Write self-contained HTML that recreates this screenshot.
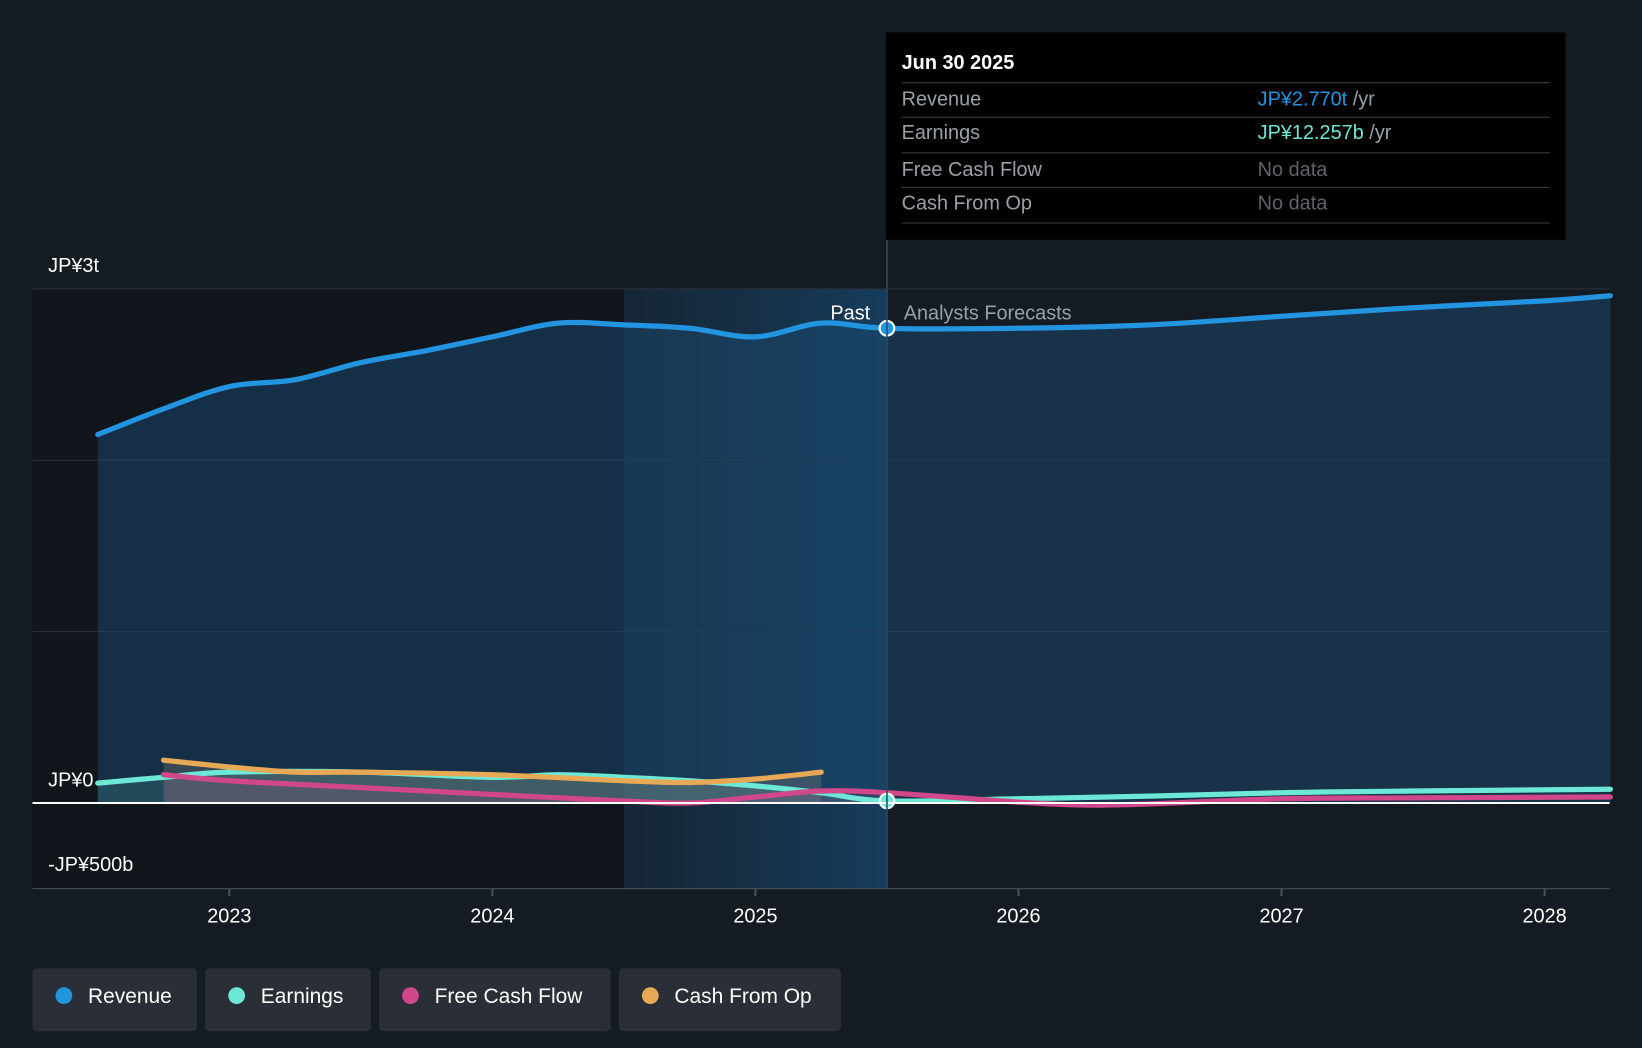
<!DOCTYPE html>
<html><head><meta charset="utf-8"><style>
html,body{margin:0;padding:0;background:#151b23;}
svg{display:block;font-family:"Liberation Sans",sans-serif;}
</style></head><body>
<svg id="chart" width="1642" height="1048" viewBox="0 0 1568 1001" preserveAspectRatio="none" xmlns="http://www.w3.org/2000/svg">
<defs>
<linearGradient id="hl" x1="0" x2="1" y1="0" y2="0"><stop offset="0" stop-color="#16324a" stop-opacity="0.5"/><stop offset="1" stop-color="#17456a" stop-opacity="0.8"/></linearGradient>
</defs>
<rect width="1568" height="1001" fill="#151b23"/>
<g id="bg"></g>
<g id="grid"></g>
<g id="areas"></g>
<g id="lines"></g>
<g id="axes"></g>
<g id="tooltip">
<rect x="846" y="31" width="649" height="198" fill="#000"/>
<text x="861" y="66" fill="#fff" font-size="19" font-weight="bold">Jun 30 2025</text>
<line x1="861" x2="1480" y1="79" y2="79" stroke="#3a3f46"/>
<text x="861" y="101" fill="#9aa0a6" font-size="19">Revenue</text>
<text x="1201" y="101" font-size="19"><tspan fill="#2394e0">JP¥2.770t</tspan><tspan fill="#9aa0a6"> /yr</tspan></text>
<line x1="861" x2="1480" y1="112" y2="112" stroke="#3a3f46"/>
<text x="861" y="133" fill="#9aa0a6" font-size="19">Earnings</text>
<text x="1201" y="133" font-size="19"><tspan fill="#6de8d6">JP¥12.257b</tspan><tspan fill="#9aa0a6"> /yr</tspan></text>
<line x1="861" x2="1480" y1="146" y2="146" stroke="#3a3f46"/>
<text x="861" y="168" fill="#9aa0a6" font-size="19">Free Cash Flow</text>
<text x="1201" y="168" fill="#5f6368" font-size="19">No data</text>
<line x1="861" x2="1480" y1="179" y2="179" stroke="#3a3f46"/>
<text x="861" y="200" fill="#9aa0a6" font-size="19">Cash From Op</text>
<text x="1201" y="200" fill="#5f6368" font-size="19">No data</text>
<line x1="861" x2="1480" y1="213" y2="213" stroke="#3a3f46"/>
</g>
<g id="legend"></g>
</svg>
<script>
const revT=[2022.5,2022.75,2023,2023.25,2023.5,2023.75,2024,2024.25,2024.5,2024.75,2025,2025.25,2025.5,2026,2026.5,2027,2027.5,2028,2028.25];
const revV=[2.15,2.30,2.43,2.47,2.57,2.64,2.72,2.80,2.79,2.77,2.72,2.80,2.77,2.77,2.79,2.84,2.89,2.93,2.96];
const earnT=[2022.5,2022.75,2023,2023.5,2024,2024.25,2024.5,2024.75,2025,2025.25,2025.5,2026,2026.5,2027,2027.5,2028.25];
const earnV=[0.116,0.15,0.18,0.18,0.15,0.165,0.15,0.13,0.10,0.06,0.012,0.025,0.04,0.06,0.07,0.08];
const fcfT=[2022.75,2023,2023.5,2024,2024.5,2024.75,2025,2025.25,2025.5,2026,2026.25,2026.5,2027,2027.5,2028.25];
const fcfV=[0.165,0.13,0.09,0.05,0.012,0,0.035,0.07,0.06,0.005,-0.012,-0.005,0.025,0.03,0.035];
const cfoT=[2022.75,2023,2023.25,2023.5,2024,2024.5,2024.75,2025,2025.25];
const cfoV=[0.25,0.21,0.18,0.18,0.165,0.13,0.12,0.14,0.18];
const yTicks=[3,2,1,0,-0.5];
const yLabels={"3":"JP¥3t","0":"JP¥0","-0.5":"-JP¥500b"};
const xTicks=[2023,2024,2025,2026,2027,2028];
const pastT=2025.5;
const legendItems=[["Revenue","#2394e0"],["Earnings","#6de8d6"],["Free Cash Flow","#d0478a"],["Cash From Op","#e8a956"]];

const X=t=>219+(t-2023)*251.2;
const Y=v=>767-v*163.7;
const NS="http://www.w3.org/2000/svg";
function el(tag,attrs,parent){const e=document.createElementNS(NS,tag);for(const k in attrs)e.setAttribute(k,attrs[k]);parent.appendChild(e);return e;}
function path(ts,vs){const p=ts.map((t,i)=>[X(t),Y(vs[i])]);let d="M"+p[0][0]+","+p[0][1];
 for(let i=0;i<p.length-1;i++){const p0=p[i-1]||p[i],p1=p[i],p2=p[i+1],p3=p[i+2]||p2;
  const c1=[p1[0]+(p2[0]-p0[0])/6,p1[1]+(p2[1]-p0[1])/6],c2=[p2[0]-(p3[0]-p1[0])/6,p2[1]-(p3[1]-p1[1])/6];
  d+=" C"+c1+" "+c2+" "+p2;}return d;}
const bg=document.getElementById('bg');
let r=el('rect',{x:31,y:276,width:X(2024.5)-31,height:573,fill:'#11151c'},bg);

r=el('rect',{x:X(2024.5),y:276,width:X(pastT)-X(2024.5),height:573,fill:'url(#hl)'},bg);

const grid=document.getElementById('grid'),axes=document.getElementById('axes');
yTicks.forEach(v=>{const g=el('line',{x1:31,x2:1537,y1:Y(v),y2:Y(v),stroke:v===0?'#fff':(v===-0.5?'#4a4f57':'#2c333c'),'stroke-width':v===0?2:1},v===0?axes:grid);
 
 const lab=yLabels[String(v)];if(lab){const t=el('text',{x:46,y:Y(v)-(v<0?17:16),fill:'#fff','font-size':19},axes);
 t.textContent=lab;}});
xTicks.forEach(t=>{const l=el('line',{x1:X(t),x2:X(t),y1:849,y2:856,stroke:'#4a4f57','stroke-width':2},axes);
 
 const tx=el('text',{x:X(t),y:881,fill:'#fff','font-size':19,'text-anchor':'middle'},axes);tx.textContent=t;
 });
const pl=el('line',{x1:X(pastT),x2:X(pastT),y1:229,y2:849,stroke:'#2a4a66','stroke-width':1.5},axes);

let t1=el('text',{x:X(pastT)-16,y:305,fill:'#fff','font-size':19,'text-anchor':'end'},axes);t1.textContent='Past';

t1=el('text',{x:X(pastT)+16,y:305,fill:'#9aa0a6','font-size':19},axes);t1.textContent='Analysts Forecasts';

const areas=document.getElementById('areas'),lines=document.getElementById('lines');
function area(ts,vs,fill,op,name){const d=path(ts,vs)+" L"+X(ts[ts.length-1])+","+Y(0)+" L"+X(ts[0])+","+Y(0)+"Z";
 const a=el('path',{d:d,fill:fill,'fill-opacity':op},areas);}
area(revT,revV,'#1a4a70',0.5,'revenue-area');
area(earnT.slice(0,11),earnV.slice(0,11),'#6de8d6',0.15,'earnings-area');
area(cfoT,cfoV,'#a09080',0.25,'cfo-area');
area(fcfT.slice(0,9),fcfV.slice(0,9),'#d0478a',0.12,'fcf-area');
function line(ts,vs,c,name){const l=el('path',{d:path(ts,vs),fill:'none',stroke:c,'stroke-width':5,'stroke-linecap':'round'},lines);
 }
line(revT,revV,'#2394e0','revenue-line');
line(earnT,earnV,'#6de8d6','earnings-line');
line(fcfT,fcfV,'#d0478a','fcf-line');
line(cfoT,cfoV,'#e8a956','cfo-line');
let dt=el('circle',{cx:X(pastT),cy:Y(2.77),r:7,fill:'#2394e0',stroke:'#fff','stroke-width':2},lines);

dt=el('circle',{cx:X(pastT),cy:Y(0.012),r:7,fill:'#6de8d6',stroke:'#fff','stroke-width':2},lines);

const lg=document.getElementById('legend');const widths=[157,158,221,212];let lx=31;
legendItems.forEach((it,i)=>{const g=el('g',{},lg);
 el('rect',{x:lx,y:925,width:widths[i],height:60,rx:4,fill:'#2a2f37'},g);
 el('circle',{cx:lx+30,cy:951,r:8,fill:it[1]},g);
 const t=el('text',{x:lx+53,y:958,fill:'#fff','font-size':20},g);t.textContent=it[0];
 lx+=widths[i]+8;});
</script>
</body></html>
